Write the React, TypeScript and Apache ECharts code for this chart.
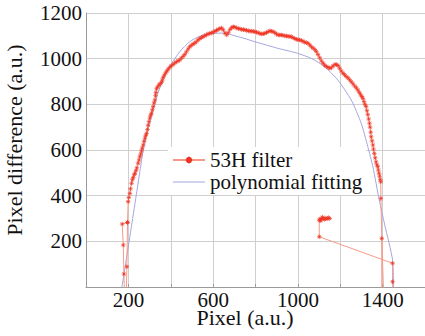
import React, { useEffect, useRef } from "react";
import * as echarts from "echarts";

// tick labels
const xLabelValues = [200, 600, 1000, 1400];
const yLabelValues = [200, 400, 600, 800, 1000, 1200];
const xAxisName = "Pixel (a.u.)";
const yAxisName = "Pixel difference (a.u.)";

// 53H filter output, left tail
const filterLeftTail: [number, number][] = [
  [182, -40], [179, 57], [176, 184], [171, 276], [196, 283],
];

// 53H filter output, main curve
const filterMain: [number, number][] = [
  [190, -40], [193, 89], [196, 283], [199, 374], [202, 392], [207, 410], [210, 430], [215, 454],
  [219, 470], [223, 480], [228, 492], [231, 498], [236, 510], [240, 522], [246, 542], [250, 556],
  [254, 570], [258, 582], [262, 596], [265, 608], [270, 622], [274, 638], [278, 652], [282, 664],
  [286, 673], [290, 690], [293, 708], [297, 724], [301, 740], [305, 752], [309, 761], [313, 776],
  [317, 790], [321, 806], [325, 819], [328, 838], [330, 852], [333, 868], [338, 876], [344, 884],
  [350, 890], [356, 896], [360, 906], [364, 918], [370, 928], [376, 938], [382, 946], [388, 954],
  [395, 962], [402, 968], [410, 974], [418, 980], [426, 986], [434, 990], [442, 994], [450, 1002],
  [458, 1010], [466, 1018], [474, 1030], [482, 1042], [489, 1052], [497, 1058], [505, 1064], [513, 1068],
  [521, 1074], [529, 1082], [537, 1088], [545, 1092], [552, 1096], [560, 1100], [568, 1104], [576, 1108],
  [584, 1111], [593, 1112], [600, 1116], [608, 1120], [616, 1124], [624, 1128], [632, 1132], [640, 1134],
  [648, 1126], [656, 1112], [664, 1104], [672, 1114], [680, 1128], [688, 1136], [695, 1140], [703, 1138],
  [711, 1134], [719, 1132], [727, 1130], [735, 1128], [743, 1127], [750, 1126], [758, 1124], [766, 1122],
  [774, 1120], [782, 1121], [790, 1119], [797, 1118], [805, 1116], [813, 1113], [821, 1110], [829, 1108],
  [837, 1109], [844, 1111], [852, 1114], [860, 1118], [868, 1122], [876, 1120], [883, 1118], [891, 1114],
  [899, 1108], [907, 1104], [915, 1103], [922, 1104], [930, 1102], [938, 1100], [946, 1099], [954, 1098],
  [962, 1097], [969, 1096], [977, 1092], [985, 1088], [993, 1085], [1000, 1083], [1008, 1082], [1016, 1080],
  [1024, 1076], [1032, 1072], [1040, 1070], [1048, 1067], [1056, 1060], [1064, 1052], [1072, 1046], [1080, 1040],
  [1087, 1031], [1095, 1018], [1103, 1004], [1111, 990], [1119, 980], [1126, 972], [1134, 966], [1142, 962],
  [1150, 958], [1158, 960], [1166, 968], [1175, 975], [1182, 974], [1189, 970], [1197, 958], [1205, 946],
  [1213, 936], [1220, 930], [1228, 922], [1236, 916], [1244, 908], [1252, 899], [1260, 890], [1268, 880],
  [1276, 872], [1283, 863], [1290, 852], [1296, 842], [1302, 834], [1307, 826], [1312, 812], [1317, 800],
  [1322, 790], [1326, 772], [1330, 755], [1334, 736], [1338, 717], [1341, 700], [1344, 678], [1346, 658],
  [1350, 640], [1354, 622], [1357, 604], [1361, 585], [1365, 566], [1369, 548], [1373, 535], [1377, 527],
  [1380, 512], [1383, 498], [1386, 485], [1389, 470], [1391, 461], [1392, 388], [1396, 213], [1396, -40],
];

// 53H filter output, right tail
const filterRightTail: [number, number][] = [
  [1396, 213], [1405, -40],
];

// 53H filter output, outlier cluster
const filterCluster: [number, number][] = [
  [1150, 300], [1144, 304], [1138, 298], [1132, 302], [1126, 296], [1120, 300], [1116, 306], [1112, 298],
  [1108, 290], [1104, 298], [1101, 292], [1101, 220], [1447, 104], [1447, 23], [1448, -40],
];

// polynomial fitting
const fitCurve: [number, number][] = [
  [166, -20], [190, 119], [215, 269], [240, 419], [255, 510], [270, 600], [290, 680], [317, 775],
  [340, 850], [365, 910], [395, 965], [442, 1030], [489, 1074], [536, 1098], [584, 1110], [640, 1112],
  [687, 1104], [750, 1088], [797, 1074], [850, 1060], [907, 1045], [960, 1033], [1001, 1023], [1064, 1001],
  [1126, 965], [1189, 906], [1252, 819], [1299, 717], [1330, 615], [1354, 527], [1384, 381], [1410, 272],
  [1447, 118], [1452, -20],
];

const FONT = "Liberation Serif";
const RED = "#ef3322";
const RED_LINE = "#f59a88";
const BLUE = "#a3a6dc";
const STAR = "path://M4 0L4 8M0 4L8 4M1.2 1.2L6.8 6.8M6.8 1.2L1.2 6.8";
const LINE_ICON = "path://M0 0h0.01v0.01h-0.01z M0 7.99h0.01v0.01h-0.01z M0 3.5h32v1h-32z";

function redSeries(data: [number, number][], showSymbol: boolean) {
  return {
    name: "53H filter",
    type: "line",
    data,
    symbol: STAR,
    symbolSize: 4.5,
    showSymbol,
    clip: true,
    lineStyle: { color: RED_LINE, width: 1 },
    itemStyle: { color: RED, borderColor: RED, borderWidth: 0.7 },
    z: 3,
  };
}

function titleLabel(text: string, x: number, y: number, size: number, lh: number, align: string) {
  return {
    text,
    left: x,
    top: y,
    padding: 0,
    itemGap: 0,
    textAlign: align,
    textVerticalAlign: "middle",
    textStyle: {
      fontFamily: FONT,
      fontSize: size,
      fontWeight: "normal",
      lineHeight: lh,
      color: "#111",
    },
  };
}

export default function App() {
  const ref = useRef<HTMLDivElement>(null);
  useEffect(() => {
    if (!ref.current) return;
    const chart = echarts.init(ref.current, null, { renderer: "svg" });
    chart.setOption({
      animation: false,
      backgroundColor: "#ffffff",
      grid: { left: 86, right: 0, top: 13, bottom: 49 },
      legend: {
        left: 168,
        top: 147,
        orient: "vertical",
        padding: [2, 4, 2, 4],
        itemGap: 0,
        itemWidth: 32,
        itemHeight: 8,
        backgroundColor: "#ffffff",
        textStyle: { fontFamily: FONT, fontSize: 21, color: "#111", lineHeight: 22 },
        data: [
          { name: "53H filter" },
          { name: "polynomial fitting", icon: LINE_ICON },
        ],
      },
      xAxis: {
        type: "value",
        min: 0,
        max: 1600,
        interval: 200,
        axisLine: { show: true, onZero: false, lineStyle: { color: "#9a9a9a" } },
        axisTick: { show: true, inside: true, length: 3, lineStyle: { color: "#9a9a9a" } },
        axisLabel: { show: false },
        splitLine: { show: true, lineStyle: { color: "#cfcfcf", width: 1 } },
      },
      yAxis: {
        type: "value",
        min: 0,
        max: 1200,
        interval: 200,
        axisLine: { show: true, onZero: false, lineStyle: { color: "#9a9a9a" } },
        axisTick: { show: false },
        axisLabel: { show: false },
        splitLine: { show: true, lineStyle: { color: "#cfcfcf", width: 1 } },
      },
      series: [
        redSeries(filterMain, true),
        redSeries(filterLeftTail, true),
        redSeries(filterRightTail, false),
        redSeries(filterCluster, true),
        {
          name: "polynomial fitting",
          type: "line",
          data: fitCurve,
          symbol: "none",
          smooth: 0.2,
          clip: true,
          lineStyle: { color: BLUE, width: 1 },
          itemStyle: { color: BLUE },
          z: 2,
        },
      ],
    });

    const toPx = (x: number, y: number) =>
      chart.convertToPixel({ gridIndex: 0 }, [x, y]) as number[];
    const titles: any[] = [];
    xLabelValues.forEach((v) => {
      const p = toPx(v, 0);
      titles.push(titleLabel(String(v), p[0], p[1] + 13, 21, 16, "center"));
    });
    yLabelValues.forEach((v) => {
      const p = toPx(0, v);
      titles.push(titleLabel(String(v), p[0] - 4, p[1], 21, 16, "right"));
    });
    const origin = toPx(0, 0);
    const top = toPx(0, 1200);
    titles.push(titleLabel(xAxisName, 245, origin[1] + 30, 22, 18, "center"));

    chart.setOption({
      title: titles,
      graphic: [
        {
          type: "text",
          x: origin[0] - 72,
          y: (origin[1] + top[1]) / 2 - 10,
          rotation: Math.PI / 2,
          silent: true,
          z: 10,
          style: {
            text: yAxisName,
            fontFamily: FONT,
            fontSize: 22,
            fontWeight: "normal",
            fontStyle: "normal",
            lineHeight: 18,
            fill: "#111",
            align: "center",
            verticalAlign: "middle",
          },
        },
      ],
    });

    return () => chart.dispose();
  }, []);
  return (
    <div
      ref={ref}
      style={{ position: "fixed", left: 0, top: 0, width: 425, height: 336 }}
    />
  );
}
